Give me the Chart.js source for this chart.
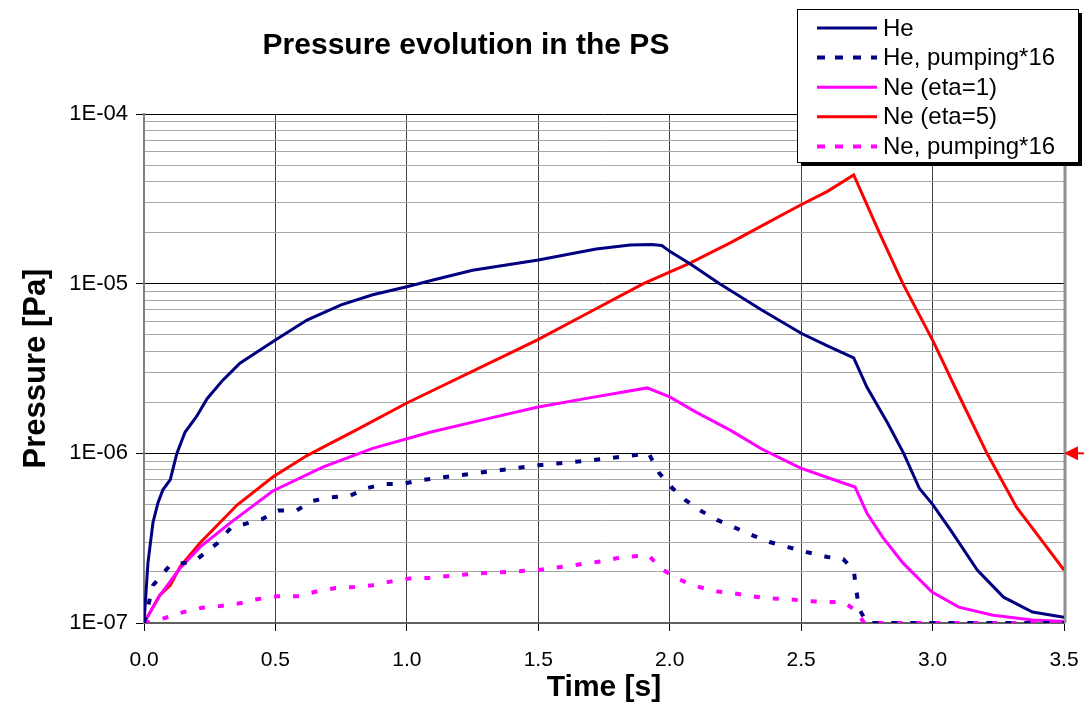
<!DOCTYPE html>
<html>
<head>
<meta charset="utf-8">
<script src="https://cdn.jsdelivr.net/npm/chart.js@4/dist/chart.umd.min.js"></script>
<style>
  html, body { margin: 0; padding: 0; background: #fff; }
  #wrap { width: 1084px; height: 706px; position: relative; }
</style>
</head>
<body>
<div id="wrap"><canvas id="grafico" width="1084" height="706"></canvas></div>
<script>
// Time [s] / pressure [Pa] for each series
const heT = [0, 0.015, 0.034, 0.053, 0.072, 0.1, 0.125, 0.156, 0.2, 0.24, 0.3, 0.365, 0.43, 0.5, 0.62, 0.75, 0.87, 1.0, 1.1, 1.25, 1.5, 1.72, 1.85, 1.93, 1.97, 2.0, 2.08, 2.19, 2.35, 2.5, 2.6, 2.7, 2.75, 2.83, 2.89, 2.95, 3.0, 3.07, 3.17, 3.27, 3.38, 3.5];
const heP = [1.0e-7, 2.26e-7, 3.9e-7, 5.1e-7, 6.1e-7, 7.0e-7, 1.0e-6, 1.33e-6, 1.65e-6, 2.1e-6, 2.7e-6, 3.4e-6, 3.95e-6, 4.65e-6, 6.1e-6, 7.5e-6, 8.6e-6, 9.6e-6, 1.05e-5, 1.2e-5, 1.38e-5, 1.6e-5, 1.69e-5, 1.7e-5, 1.68e-5, 1.55e-5, 1.3e-5, 1.0e-5, 7.0e-6, 5.1e-6, 4.3e-6, 3.65e-6, 2.46e-6, 1.5e-6, 1.0e-6, 6.2e-7, 5.0e-7, 3.5e-7, 2.05e-7, 1.42e-7, 1.16e-7, 1.08e-7];

const hePumpT = [0, 0.035, 0.1, 0.19, 0.28, 0.33, 0.45, 0.51, 0.58, 0.64, 0.71, 0.78, 0.85, 0.91, 0.98, 1.06, 1.25, 1.5, 1.7, 1.83, 1.92, 1.96, 2.01, 2.06, 2.12, 2.18, 2.26, 2.32, 2.38, 2.45, 2.52, 2.6, 2.66, 2.7, 2.71, 2.72, 2.75, 3.0, 3.25, 3.5];
const hePumpP = [1.0e-7, 1.67e-7, 2.2e-7, 2.3e-7, 2.96e-7, 3.63e-7, 4.1e-7, 4.6e-7, 4.6e-7, 5.24e-7, 5.5e-7, 5.6e-7, 6.24e-7, 6.6e-7, 6.6e-7, 6.97e-7, 7.6e-7, 8.5e-7, 9.1e-7, 9.6e-7, 1.0e-6, 7.65e-7, 6.24e-7, 5.3e-7, 4.57e-7, 4.05e-7, 3.58e-7, 3.26e-7, 3.0e-7, 2.8e-7, 2.62e-7, 2.45e-7, 2.38e-7, 2.05e-7, 1.56e-7, 1.22e-7, 1.0e-7, 1.0e-7, 1.0e-7, 1.0e-7];

const ne1T = [0, 0.06, 0.137, 0.213, 0.327, 0.49, 0.68, 0.87, 1.088, 1.3, 1.495, 1.7, 1.914, 2.0, 2.1, 2.23, 2.35, 2.496, 2.6, 2.705, 2.75, 2.81, 2.887, 2.998, 3.1, 3.23, 3.38, 3.5];
const ne1P = [1.0e-7, 1.45e-7, 2.1e-7, 2.8e-7, 3.88e-7, 6.0e-7, 8.3e-7, 1.07e-6, 1.33e-6, 1.59e-6, 1.87e-6, 2.13e-6, 2.43e-6, 2.15e-6, 1.75e-6, 1.37e-6, 1.06e-6, 8.2e-7, 7.2e-7, 6.33e-7, 4.45e-7, 3.21e-7, 2.26e-7, 1.52e-7, 1.24e-7, 1.11e-7, 1.04e-7, 1.02e-7];

const ne5T = [0, 0.06, 0.1, 0.137, 0.213, 0.354, 0.49, 0.62, 0.81, 1.0, 1.126, 1.3, 1.495, 1.7, 1.9, 2.077, 2.23, 2.35, 2.496, 2.6, 2.7, 2.8, 2.887, 3.0, 3.1, 3.207, 3.32, 3.42, 3.5];
const ne5P = [1.0e-7, 1.46e-7, 1.67e-7, 2.14e-7, 2.96e-7, 4.96e-7, 7.25e-7, 9.7e-7, 1.38e-6, 1.98e-6, 2.46e-6, 3.32e-6, 4.65e-6, 6.85e-6, 1.0e-5, 1.32e-5, 1.74e-5, 2.19e-5, 2.9e-5, 3.5e-5, 4.37e-5, 1.96e-5, 1.0e-5, 4.65e-6, 2.2e-6, 1.0e-6, 4.8e-7, 3.0e-7, 2.05e-7];

const nePumpT = [0, 0.08, 0.15, 0.22, 0.29, 0.37, 0.43, 0.51, 0.59, 0.66, 0.73, 0.8, 0.87, 0.95, 1.02, 1.08, 1.25, 1.5, 1.75, 1.82, 1.92, 1.97, 2.03, 2.1, 2.17, 2.24, 2.31, 2.37, 2.45, 2.52, 2.59, 2.66, 2.71, 2.74, 3.0, 3.25, 3.5];
const nePumpP = [1.0e-7, 1.07e-7, 1.16e-7, 1.23e-7, 1.26e-7, 1.31e-7, 1.38e-7, 1.44e-7, 1.44e-7, 1.54e-7, 1.61e-7, 1.63e-7, 1.67e-7, 1.77e-7, 1.84e-7, 1.84e-7, 1.95e-7, 2.05e-7, 2.32e-7, 2.45e-7, 2.5e-7, 2.08e-7, 1.82e-7, 1.65e-7, 1.54e-7, 1.5e-7, 1.44e-7, 1.4e-7, 1.38e-7, 1.35e-7, 1.33e-7, 1.33e-7, 1.18e-7, 1.0e-7, 1.0e-7, 1.0e-7, 1.0e-7];

const xTicks = [0, 0.5, 1.0, 1.5, 2.0, 2.5, 3.0, 3.5];
const yMajor = [1e-7, 1e-6, 1e-5, 1e-4];
const yLabels = ['1E-07', '1E-06', '1E-05', '1E-04'];
const yMinorMant = [2, 3, 4, 5, 6, 7, 8, 9];

const FONTE = "Arial, 'Liberation Sans', sans-serif";

function pares(ts, ps) {
    return ts.map((t, i) => ({ x: t, y: ps[i] }));
}

function ehMaior(v) {
    const l = Math.log10(v);
    return Math.abs(l - Math.round(l)) < 1e-9;
}

const series = [
    { label: 'He', data: pares(heT, heP), cor: '#000080', dash: [], larg: 3 },
    { label: 'He, pumping*16', data: pares(hePumpT, hePumpP), cor: '#000080', dash: [6, 13], larg: 4 },
    { label: 'Ne (eta=1)', data: pares(ne1T, ne1P), cor: '#ff00ff', dash: [], larg: 3 },
    { label: 'Ne (eta=5)', data: pares(ne5T, ne5P), cor: '#ff0000', dash: [], larg: 3 },
    { label: 'Ne, pumping*16', data: pares(nePumpT, nePumpP), cor: '#ff00ff', dash: [6, 13], larg: 4 }
];

// Title, legend box, right edge and red marker arrow
const extras = {
    id: 'extras',
    beforeDatasetsDraw(chart) {
        const { ctx, chartArea: a } = chart;
        ctx.save();
        ctx.strokeStyle = '#909090';
        ctx.lineWidth = 3;
        ctx.beginPath();
        ctx.moveTo(a.right + 1, a.top);
        ctx.lineTo(a.right + 1, a.bottom);
        ctx.stroke();
        ctx.restore();
    },
    afterDraw(chart) {
        const { ctx } = chart;
        const yS = chart.scales.y;
        const xS = chart.scales.x;
        ctx.save();
        ctx.fillStyle = '#000';
        ctx.font = 'bold 30px ' + FONTE;
        ctx.textAlign = 'center';
        ctx.textBaseline = 'middle';
        ctx.fillText('Pressure evolution in the PS', 466, 46);

        // legend
        const lx = 797, ly = 9, lw = 281, lh = 153;
        ctx.fillStyle = '#000';
        ctx.fillRect(lx + 4, ly + 4, lw, lh);
        ctx.fillStyle = '#fff';
        ctx.fillRect(lx, ly, lw, lh);
        ctx.strokeStyle = '#000';
        ctx.lineWidth = 1;
        ctx.strokeRect(lx + 0.5, ly + 0.5, lw, lh);
        ctx.font = '24px ' + FONTE;
        ctx.textAlign = 'left';
        chart.data.datasets.forEach((ds, i) => {
            const yy = 28 + i * 29.6;
            ctx.strokeStyle = ds.borderColor;
            ctx.lineWidth = ds.borderWidth;
            ctx.setLineDash(ds.borderDash.length ? [8, 10] : []);
            ctx.beginPath();
            ctx.moveTo(817, yy);
            ctx.lineTo(877, yy);
            ctx.stroke();
            ctx.setLineDash([]);
            ctx.fillStyle = '#000';
            ctx.fillText(ds.label, 883, yy + 1);
        });

        // red arrow at 1E-06 on the right edge
        const ay = yS.getPixelForValue(1e-6);
        const ax = xS.getPixelForValue(3.5);
        ctx.fillStyle = '#ff0000';
        ctx.strokeStyle = '#ff0000';
        ctx.lineWidth = 2;
        ctx.beginPath();
        ctx.moveTo(ax, ay);
        ctx.lineTo(ax + 14, ay - 7);
        ctx.lineTo(ax + 14, ay + 7);
        ctx.closePath();
        ctx.fill();
        ctx.beginPath();
        ctx.moveTo(ax + 12, ay);
        ctx.lineTo(1084, ay);
        ctx.stroke();
        ctx.restore();
    }
};

window.onload = () => {
    const ctx = document.getElementById('grafico');
    new Chart(ctx, {
        type: 'scatter',
        data: {
            datasets: series.map(s => ({
                label: s.label,
                data: s.data,
                showLine: true,
                borderColor: s.cor,
                backgroundColor: s.cor,
                borderWidth: s.larg,
                borderDash: s.dash,
                pointRadius: 0,
                tension: 0,
                fill: false
            }))
        },
        options: {
            responsive: false,
            animation: false,
            layout: { padding: { top: 114, right: 20, left: 0, bottom: 0 } },
            plugins: {
                legend: { display: false },
                tooltip: { enabled: false }
            },
            scales: {
                x: {
                    type: 'linear',
                    min: 0,
                    max: 3.5,
                    afterBuildTicks: s => { s.ticks = xTicks.map(v => ({ value: v })); },
                    afterFit: s => { s.height = 83; s.paddingLeft = 0; s.paddingRight = 0; },
                    ticks: {
                        color: '#000',
                        font: { family: FONTE, size: 21 },
                        padding: 17,
                        maxRotation: 0,
                        callback: v => v.toFixed(1)
                    },
                    grid: { color: '#404040', lineWidth: 1, tickLength: 8, tickColor: '#000' },
                    border: { color: '#606060', width: 2 },
                    title: {
                        display: true,
                        text: 'Time [s]',
                        color: '#000',
                        font: { family: FONTE, size: 30, weight: 'bold' },
                        padding: { top: 0, bottom: 0 }
                    }
                },
                y: {
                    type: 'logarithmic',
                    min: 1e-7,
                    max: 1e-4,
                    afterBuildTicks: s => {
                        const t = [];
                        yMajor.forEach((m, i) => {
                            t.push({ value: m });
                            if (i < yMajor.length - 1) yMinorMant.forEach(k => t.push({ value: k * m }));
                        });
                        s.ticks = t;
                    },
                    afterFit: s => { s.width = 144; s.paddingTop = 0; s.paddingBottom = 0; },
                    ticks: {
                        autoSkip: false,
                        color: '#000',
                        font: { family: FONTE, size: 22 },
                        padding: 8,
                        callback: v => {
                            const i = yMajor.findIndex(m => Math.abs(m - v) / m < 1e-6);
                            return i >= 0 ? yLabels[i] : '';
                        }
                    },
                    grid: {
                        color: c => (c.tick && ehMaior(c.tick.value)) ? '#000' : '#a8a8a8',
                        lineWidth: 1,
                        tickLength: 8,
                        tickColor: c => (c.tick && ehMaior(c.tick.value)) ? '#000' : 'rgba(0,0,0,0)'
                    },
                    border: { color: '#808080', width: 2 },
                    title: {
                        display: true,
                        text: 'Pressure [Pa]',
                        color: '#000',
                        font: { family: FONTE, size: 31, weight: 'bold' },
                        padding: { top: 18, bottom: 0 }
                    }
                }
            }
        },
        plugins: [extras]
    });
};
</script>
</body>
</html>
